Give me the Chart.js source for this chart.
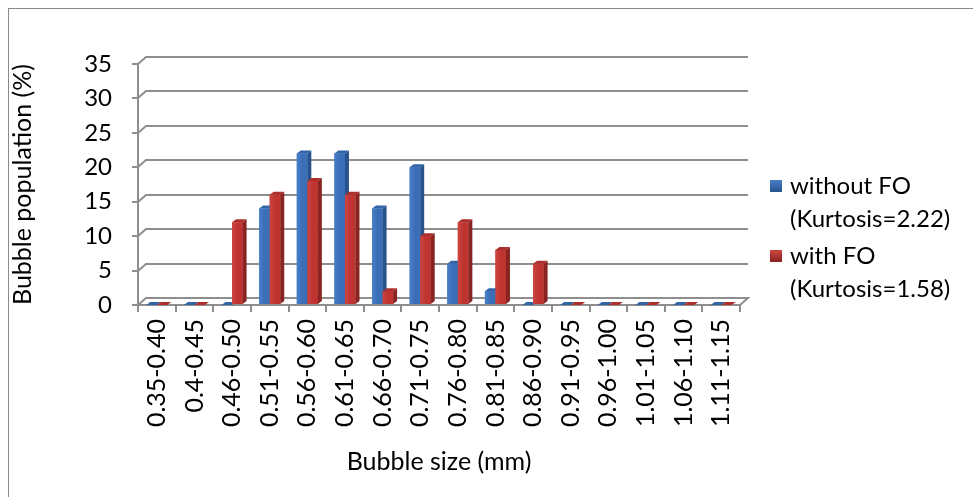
<!DOCTYPE html>
<html>
<head>
<meta charset="utf-8">
<script src="https://cdn.jsdelivr.net/npm/chart.js@4/dist/chart.umd.min.js"></script>
<style>
  html, body { margin: 0; padding: 0; background: #ffffff; }
  #wrap { width: 973px; height: 497px; position: relative; }
</style>
</head>
<body>
<div id="wrap"><canvas id="c" width="973" height="497"></canvas></div>
<script>
// Bubble size classes (mm)
const sizeBins = ['0.35-0.40', '0.4-0.45', '0.46-0.50', '0.51-0.55', '0.56-0.60', '0.61-0.65',
  '0.66-0.70', '0.71-0.75', '0.76-0.80', '0.81-0.85', '0.86-0.90', '0.91-0.95',
  '0.96-1.00', '1.01-1.05', '1.06-1.10', '1.11-1.15'];

// Bubble population (%) per size class
const withoutFO = [0, 0, 0, 14, 22, 22, 14, 20, 6, 2, 0, 0, 0, 0, 0, 0];
const withFO    = [0, 0, 12, 16, 18, 16, 2, 10, 12, 8, 6, 0, 0, 0, 0, 0];

const seriesLabels = [
  ['without FO', '(Kurtosis=2.22)'],
  ['with FO', '(Kurtosis=1.58)']
];

const yMin = 0, yMax = 35, yStep = 5;

const FONT = 'Lato, "Open Sans", sans-serif';
const GRAY = '#8e8e8e';

// colours: front, side, top
const palette = [
  { front: '#3a6fb8', light: '#4a80c9', side: '#27528c', top: '#3264a8' },
  { front: '#bf3431', light: '#cc4541', side: '#8a2422', top: '#ad2f2c' }
];

// back wall / floor depth and bar depth, in pixels
const WALL_DX = 8, WALL_DY = 7;
const BAR_DX = 4, BAR_DY = 3;

const framePlugin = {
  id: 'frame',
  beforeDraw(chart) {
    const ctx = chart.ctx;
    ctx.save();
    ctx.fillStyle = '#ffffff';
    ctx.fillRect(0, 0, chart.width, chart.height);
    ctx.strokeStyle = '#8a8a8a';
    ctx.lineWidth = 1;
    ctx.strokeRect(8.5, 8.5, chart.width + 40, chart.height + 40);
    ctx.restore();
  }
};

const wallPlugin = {
  id: 'wall',
  beforeDatasetsDraw(chart) {
    const { ctx, chartArea: a, scales: { y } } = chart;
    ctx.save();
    ctx.strokeStyle = GRAY;
    ctx.lineWidth = 2;
    ctx.lineJoin = 'miter';
    y.ticks.forEach(t => {
      const py = Math.round(y.getPixelForValue(t.value));
      ctx.beginPath();
      ctx.moveTo(a.left, py);
      ctx.lineTo(a.left + WALL_DX, py - WALL_DY);
      ctx.lineTo(a.right + WALL_DX, py - WALL_DY);
      if (t.value === yMin) ctx.lineTo(a.right, py);
      ctx.stroke();
    });
    ctx.restore();
  }
};

const bar3dPlugin = {
  id: 'bar3d',
  afterDatasetsDraw(chart) {
    const ctx = chart.ctx;
    const n = chart.data.labels.length;
    const nd = chart.data.datasets.length;
    ctx.save();
    for (let i = 0; i < n; i++) {
      for (let d = 0; d < nd; d++) {
        const el = chart.getDatasetMeta(d).data[i];
        if (!el) continue;
        const p = el.getProps(['x', 'y', 'base', 'width'], true);
        const c = palette[d];
        const x0 = p.x - p.width / 2, x1 = p.x + p.width / 2;
        const top = Math.min(p.y, p.base), bot = Math.max(p.y, p.base);
        // front face
        if (bot - top > 0) {
          const g = ctx.createLinearGradient(x0, 0, x1, 0);
          g.addColorStop(0, c.light);
          g.addColorStop(0.5, c.front);
          g.addColorStop(1, c.front);
          ctx.fillStyle = g;
          ctx.fillRect(x0, top, x1 - x0, bot - top);
        }
        // side face
        ctx.fillStyle = c.side;
        ctx.beginPath();
        ctx.moveTo(x1, top);
        ctx.lineTo(x1 + BAR_DX, top - BAR_DY);
        ctx.lineTo(x1 + BAR_DX, bot - BAR_DY);
        ctx.lineTo(x1, bot);
        ctx.closePath();
        ctx.fill();
        // top face
        ctx.fillStyle = c.top;
        ctx.beginPath();
        ctx.moveTo(x0, top);
        ctx.lineTo(x1, top);
        ctx.lineTo(x1 + BAR_DX, top - BAR_DY);
        ctx.lineTo(x0 + BAR_DX, top - BAR_DY);
        ctx.closePath();
        ctx.fill();
      }
    }
    ctx.restore();
  }
};

const legendPlugin = {
  id: 'sideLegend',
  afterDraw(chart) {
    const ctx = chart.ctx;
    const x = 770, tx = 790, lineH = 33;
    const starts = [186, 256];
    ctx.save();
    ctx.font = '24px ' + FONT;
    ctx.textBaseline = 'middle';
    ctx.textAlign = 'left';
    chart.data.datasets.forEach((ds, d) => {
      const y0 = starts[d];
      const c = palette[d];
      const g = ctx.createLinearGradient(0, y0 - 6, 0, y0 + 6);
      g.addColorStop(0, c.light);
      g.addColorStop(1, c.side);
      ctx.fillStyle = g;
      ctx.fillRect(x, y0 - 6, 12, 12);
      ctx.fillStyle = '#000000';
      seriesLabels[d].forEach((line, k) => ctx.fillText(line, tx, y0 + k * lineH));
    });
    ctx.restore();
  }
};

new Chart(document.getElementById('c'), {
  type: 'bar',
  data: {
    labels: sizeBins,
    datasets: [
      { label: seriesLabels[0].join(' '), data: withoutFO, backgroundColor: palette[0].front },
      { label: seriesLabels[1].join(' '), data: withFO, backgroundColor: palette[1].front }
    ]
  },
  options: {
    responsive: false,
    animation: false,
    devicePixelRatio: 1,
    categoryPercentage: 0.56,
    barPercentage: 1.0,
    layout: { padding: { left: 8, top: 64, right: 233, bottom: 0 } },
    plugins: {
      legend: { display: false },
      tooltip: { enabled: false }
    },
    scales: {
      x: {
        grid: { display: true, offset: true, drawOnChartArea: false, drawTicks: true, tickLength: 7, color: GRAY, lineWidth: 2 },
        border: { display: true, color: GRAY, width: 2 },
        ticks: { color: '#000000', font: { family: FONT, size: 25 }, minRotation: 90, maxRotation: 90, autoSkip: false, padding: 7 },
        title: { display: true, text: 'Bubble size (mm)', color: '#000000', font: { family: FONT, size: 25 }, padding: { top: 0, bottom: 20 } },
        afterFit(s) { s.height = 192; }
      },
      y: {
        min: yMin, max: yMax,
        grid: { display: true, drawOnChartArea: false, drawTicks: true, tickLength: 6, color: GRAY, lineWidth: 2 },
        border: { display: true, color: GRAY, width: 2 },
        ticks: { stepSize: yStep, color: '#000000', font: { family: FONT, size: 24 }, padding: 20 },
        title: { display: true, text: 'Bubble population (%)', color: '#000000', font: { family: FONT, size: 25 }, padding: { top: 0, bottom: 0 } },
        afterFit(s) { s.width = 130; }
      }
    }
  },
  plugins: [framePlugin, wallPlugin, bar3dPlugin, legendPlugin]
});
</script>
</body>
</html>
